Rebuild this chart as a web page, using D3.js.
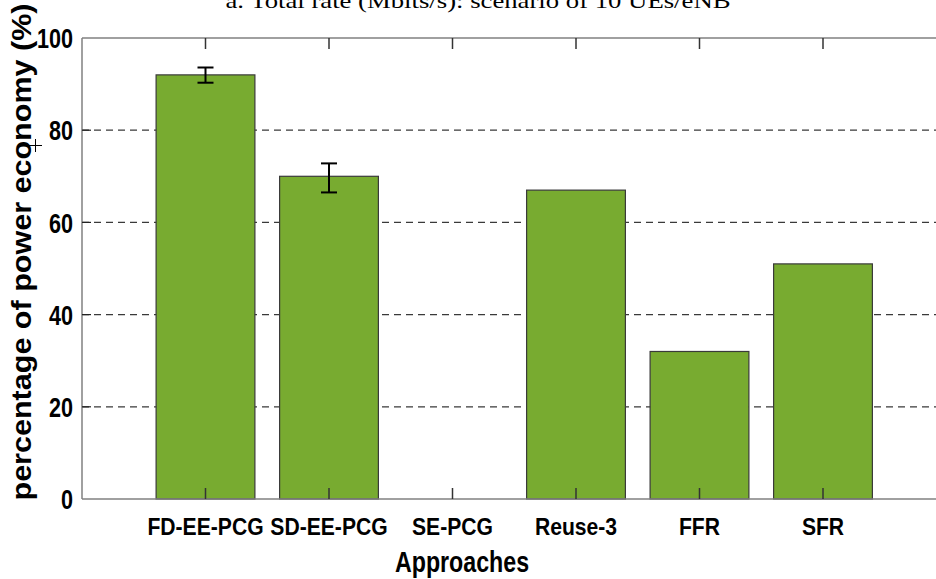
<!DOCTYPE html>
<html>
<head>
<meta charset="utf-8">
<script src="https://cdn.jsdelivr.net/npm/d3@7"></script>
<style>
  html, body { margin: 0; padding: 0; background: #fff; }
  svg { display: block; }
</style>
</head>
<body>
<script>
const categories = ["FD-EE-PCG", "SD-EE-PCG", "SE-PCG", "Reuse-3", "FFR", "SFR"];
const values = [92, 70, 0, 67, 32, 51];
const errLow = [90.3, 66.5, null, null, null, null];
const errHigh = [93.6, 72.8, null, null, null, null];
const yTicks = [0, 20, 40, 60, 80, 100];
const gridTicks = [20, 40, 60, 80];
const titleText = "a. Total rate (Mbits/s): scenario of 10 UEs/eNB";
const xLabel = "Approaches";
const yLabel = "percentage of power economy (%)";

(function () {
const W = 936, H = 579;
const mLeft = 82, mTop = 38, mBottom = 499;
const step = 123.5;

const svg = d3.select("body").append("svg").attr("width", W).attr("height", H);

const x = d3.scaleLinear().domain([0, categories.length + 1]).range([mLeft, mLeft + step * (categories.length + 1)]);
const y = d3.scaleLinear().domain([0, 100]).range([mBottom, mTop]);
const barW = x(0.8) - x(0);

// title (clipped at top, as in the reference)
svg.append("text")
  .attr("x", 478).attr("y", 8)
  .attr("text-anchor", "middle")
  .attr("font-family", "Liberation Serif, Times New Roman, serif")
  .attr("font-size", 22)
  .attr("textLength", 505).attr("lengthAdjust", "spacingAndGlyphs")
  .text(titleText);

// grid lines
svg.append("g").selectAll("line").data(gridTicks).join("line")
  .attr("x1", mLeft).attr("x2", W)
  .attr("y1", d => y(d)).attr("y2", d => y(d))
  .attr("stroke", "#3a3a3a").attr("stroke-width", 1.2)
  .attr("stroke-dasharray", "7,5");

// bars
svg.append("g").selectAll("rect").data(values).join("rect")
  .attr("x", (d, i) => x(i + 1) - barW / 2)
  .attr("y", d => y(d))
  .attr("width", barW)
  .attr("height", d => y(0) - y(d))
  .attr("fill", d => d > 0 ? "#78AB30" : "none")
  .attr("stroke", d => d > 0 ? "#3a3a3a" : "none")
  .attr("stroke-width", 1.2);

// error bars
const eg = svg.append("g").attr("stroke", "#000").attr("stroke-width", 2);
values.forEach((v, i) => {
  if (errLow[i] == null) return;
  const cx = x(i + 1);
  eg.append("line").attr("x1", cx).attr("x2", cx).attr("y1", y(errLow[i])).attr("y2", y(errHigh[i]));
  eg.append("line").attr("x1", cx - 8).attr("x2", cx + 8).attr("y1", y(errLow[i])).attr("y2", y(errLow[i]));
  eg.append("line").attr("x1", cx - 8).attr("x2", cx + 8).attr("y1", y(errHigh[i])).attr("y2", y(errHigh[i]));
});

// axis box (left, top, bottom; right is off-canvas)
const box = svg.append("g").attr("stroke", "#808080").attr("stroke-width", 1.5).attr("fill", "none");
box.append("line").attr("x1", mLeft).attr("x2", mLeft).attr("y1", mTop).attr("y2", mBottom);
box.append("line").attr("x1", mLeft).attr("x2", W).attr("y1", mTop).attr("y2", mTop);
box.append("line").attr("x1", mLeft).attr("x2", W).attr("y1", mBottom).attr("y2", mBottom);

// y axis tick labels
const yAxis = d3.axisLeft(y).tickValues(yTicks).tickSize(0).tickPadding(9);
const ya = svg.append("g").attr("transform", `translate(${mLeft},0)`).call(yAxis);
ya.select(".domain").remove();
ya.selectAll("text")
  .attr("font-family", "Liberation Sans, Arial, sans-serif")
  .attr("font-weight", "bold")
  .attr("font-size", 27)
  .attr("fill", "#000")
  .attr("dy", "0.36em");
ya.selectAll(".tick text").each(function () {
  const len = this.getComputedTextLength();
  d3.select(this).attr("textLength", len * 0.8).attr("lengthAdjust", "spacingAndGlyphs");
});
svg.append("g").selectAll("line").data(gridTicks).join("line")
  .attr("x1", mLeft).attr("x2", mLeft + 9)
  .attr("y1", d => y(d)).attr("y2", d => y(d))
  .attr("stroke", "#222").attr("stroke-width", 1.2);

// x axis ticks (top and bottom, inward)
const xt = svg.append("g").attr("stroke", "#333").attr("stroke-width", 1.5);
categories.forEach((c, i) => {
  const cx = x(i + 1);
  xt.append("line").attr("x1", cx).attr("x2", cx).attr("y1", mTop).attr("y2", mTop + 11);
  xt.append("line").attr("x1", cx).attr("x2", cx).attr("y1", mBottom).attr("y2", mBottom - 11);
});

// x tick labels
svg.append("g").selectAll("text").data(categories).join("text")
  .attr("x", (d, i) => x(i + 1))
  .attr("y", 535)
  .attr("text-anchor", "middle")
  .attr("font-family", "Liberation Sans, Arial, sans-serif")
  .attr("font-weight", "bold")
  .attr("font-size", 24)
  .text(d => d)
  .each(function () {
    const len = this.getComputedTextLength();
    d3.select(this).attr("textLength", len * 0.88).attr("lengthAdjust", "spacingAndGlyphs");
  });

// x axis label
svg.append("text")
  .attr("x", 462).attr("y", 572)
  .attr("text-anchor", "middle")
  .attr("font-family", "Liberation Sans, Arial, sans-serif")
  .attr("font-weight", "bold")
  .attr("font-size", 29)
  .text(xLabel)
  .each(function () {
    const len = this.getComputedTextLength();
    d3.select(this).attr("textLength", len * 0.8).attr("lengthAdjust", "spacingAndGlyphs");
  });

// y axis label
svg.append("text")
  .attr("transform", "translate(31,252) rotate(-90)")
  .attr("text-anchor", "middle")
  .attr("font-family", "Liberation Sans, Arial, sans-serif")
  .attr("font-weight", "bold")
  .attr("font-size", 28)
  .attr("textLength", 497).attr("lengthAdjust", "spacingAndGlyphs")
  .text(yLabel);

// cursor cross artifact
const cr = svg.append("g").attr("stroke", "#000").attr("stroke-width", 1);
cr.append("line").attr("x1", 29).attr("x2", 42).attr("y1", 145.5).attr("y2", 145.5);
cr.append("line").attr("x1", 35.5).attr("x2", 35.5).attr("y1", 139).attr("y2", 152);
})();
</script>
</body>
</html>
